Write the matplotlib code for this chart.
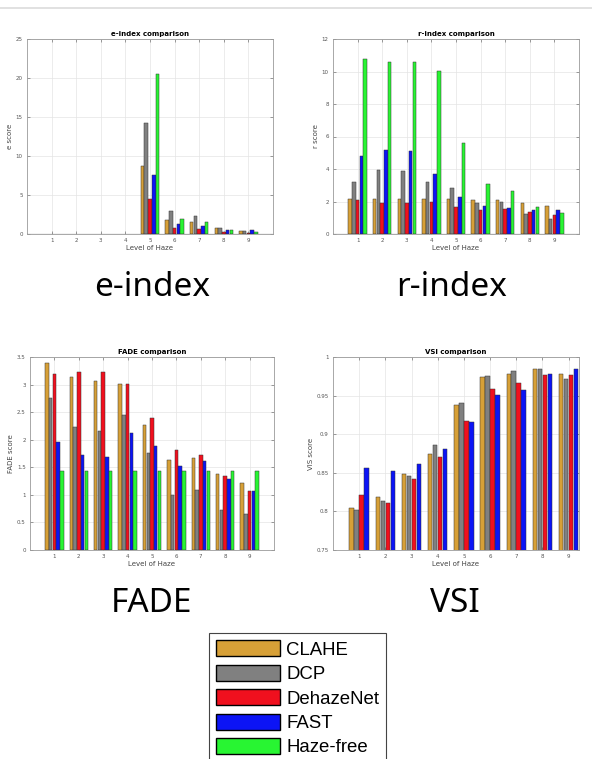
import numpy as np
import matplotlib
matplotlib.use('Agg')
import matplotlib.pyplot as plt
from matplotlib.patches import Patch
from matplotlib.lines import Line2D

# haze levels and methods
levels = [1, 2, 3, 4, 5, 6, 7, 8, 9]
methods = ['CLAHE', 'DCP', 'DehazeNet', 'FAST', 'Haze-free']
colors = ['#D7A037', '#808080', '#F0101E', '#0C14F5', '#28F532']

# e-index (levels 1-4 have no value)
nan = np.nan
e_clahe = [nan, nan, nan, nan, 8.78, 1.84, 1.54, 0.73, 0.43]
e_dcp = [nan, nan, nan, nan, 14.2, 2.95, 2.31, 0.81, 0.43]
e_dehaze = [nan, nan, nan, nan, 4.45, 0.77, 0.68, 0.20, 0.13]
e_fast = [nan, nan, nan, nan, 7.53, 1.28, 1.03, 0.56, 0.50]
e_free = [nan, nan, nan, nan, 20.55, 1.97, 1.54, 0.51, 0.26]

# r-index
r_clahe = [2.18, 2.14, 2.18, 2.18, 2.18, 2.10, 2.10, 1.91, 1.75]
r_dcp = [3.23, 3.92, 3.90, 3.20, 2.84, 1.91, 1.95, 1.25, 0.92]
r_dehaze = [2.12, 1.91, 1.91, 1.95, 1.68, 1.46, 1.52, 1.34, 1.19]
r_fast = [4.79, 5.14, 5.12, 3.72, 2.30, 1.73, 1.62, 1.46, 1.46]
r_free = [10.75, 10.58, 10.58, 10.03, 5.59, 3.06, 2.63, 1.68, 1.29]

# FADE
f_clahe = [3.39, 3.13, 3.07, 3.01, 2.27, 1.63, 1.67, 1.37, 1.21]
f_dcp = [2.76, 2.23, 2.16, 2.45, 1.76, 0.99, 1.08, 0.72, 0.66]
f_dehaze = [3.19, 3.23, 3.23, 3.01, 2.40, 1.82, 1.73, 1.34, 1.07]
f_fast = [1.96, 1.72, 1.68, 2.13, 1.89, 1.53, 1.61, 1.28, 1.07]
f_free = [1.44, 1.44, 1.44, 1.44, 1.44, 1.44, 1.44, 1.44, 1.44]

# VSI (no haze-free)
v_clahe = [0.804, 0.819, 0.848, 0.875, 0.938, 0.974, 0.978, 0.984, 0.978]
v_dcp = [0.8015, 0.813, 0.846, 0.886, 0.941, 0.976, 0.982, 0.984, 0.971]
v_dehaze = [0.821, 0.811, 0.842, 0.870, 0.917, 0.958, 0.966, 0.977, 0.977]
v_fast = [0.856, 0.852, 0.861, 0.881, 0.916, 0.951, 0.957, 0.978, 0.985]

W, H = 592, 759
fig = plt.figure(figsize=(W / 100, H / 100), dpi=100)


def px_rect(x0, y0, x1, y1):
    return [x0 / W, 1 - y1 / H, (x1 - x0) / W, (y1 - y0) / H]


def bar_panel(rect, series, title, ylab, ylim, yticks, xlim, spacing, width, baseline=False):
    ax = fig.add_axes(px_rect(*rect))
    x = np.array(levels, dtype=float)
    n = len(series)
    for i, vals in enumerate(series):
        off = (i - (n - 1) / 2) * spacing
        ax.bar(x + off, vals, width=width, color=colors[i],
               edgecolor='#333333', linewidth=0.35, zorder=3)
    ax.set_xlim(*xlim)
    ax.set_ylim(*ylim)
    ax.set_xticks(levels)
    ax.set_yticks(yticks)
    ax.set_yticklabels(['%g' % t for t in yticks])
    ax.grid(True, color='#e4e4e4', linewidth=0.5, zorder=0)
    ax.set_axisbelow(True)
    ax.tick_params(direction='in', length=2, width=0.4, top=True, right=True,
                   labelsize=4, colors='#555555', pad=3)
    for s in ax.spines.values():
        s.set_color('#9a9a9a')
        s.set_linewidth(0.6)
    if baseline:
        ax.axhline(0, color='#222222', linewidth=0.8, zorder=4)
    ax.set_title(title, fontsize=5, fontweight='bold', pad=2)
    ax.set_xlabel('Level of Haze', fontsize=5, color='#444444', labelpad=1)
    ax.set_ylabel(ylab, fontsize=5, color='#444444', labelpad=2)
    return ax


bar_panel((27, 39, 273, 234), [e_clahe, e_dcp, e_dehaze, e_fast, e_free],
          'e-index comparison', 'e score', (0, 25), [0, 5, 10, 15, 20, 25],
          (0, 10), 0.154, 0.14, baseline=True)
bar_panel((333, 39, 579, 234), [r_clahe, r_dcp, r_dehaze, r_fast, r_free],
          'r-index comparison', 'r score', (0, 12), [0, 2, 4, 6, 8, 10, 12],
          (0, 10), 0.154, 0.14, baseline=True)
bar_panel((30, 357, 274, 550), [f_clahe, f_dcp, f_dehaze, f_fast, f_free],
          'FADE comparison', 'FADE score', (0, 3.5),
          [0, 0.5, 1, 1.5, 2, 2.5, 3, 3.5], (0, 10), 0.154, 0.14)
bar_panel((333, 357, 579, 550), [v_clahe, v_dcp, v_dehaze, v_fast],
          'VSI comparison', 'VIS score', (0.75, 1),
          [0.75, 0.8, 0.85, 0.9, 0.95, 1], (0, 9.4), 0.19, 0.17)

# big captions under each panel
cap = dict(fontsize=24, family='Noto Sans', ha='center', va='center', color='black')
fig.text(152 / W, 1 - 287 / H, 'e-index', **cap)
fig.text(452 / W, 1 - 287 / H, 'r-index', **cap)
fig.text(152 / W, 1 - 604 / H, 'FADE', **cap)
fig.text(455 / W, 1 - 604 / H, 'VSI', **cap)

# thin rule across the top
fig.add_artist(Line2D([0, 1], [1 - 8 / H, 1 - 8 / H], transform=fig.transFigure,
                      color='#dcdcdc', linewidth=1.2))

handles = [Patch(facecolor=c, edgecolor='black', linewidth=1) for c in colors]
leg = fig.legend(handles, methods, loc='upper left',
                 bbox_to_anchor=(209 / W, 1 - 633 / H),
                 prop={'family': 'Liberation Sans', 'size': 13.4},
                 handlelength=3.44, handleheight=0.95, handletextpad=0.3,
                 labelspacing=0.32, borderpad=0.4, borderaxespad=0,
                 fancybox=False, framealpha=1)
leg.get_frame().set_edgecolor('#444444')
leg.get_frame().set_linewidth(0.8)

fig.savefig('out.png', dpi=100)
